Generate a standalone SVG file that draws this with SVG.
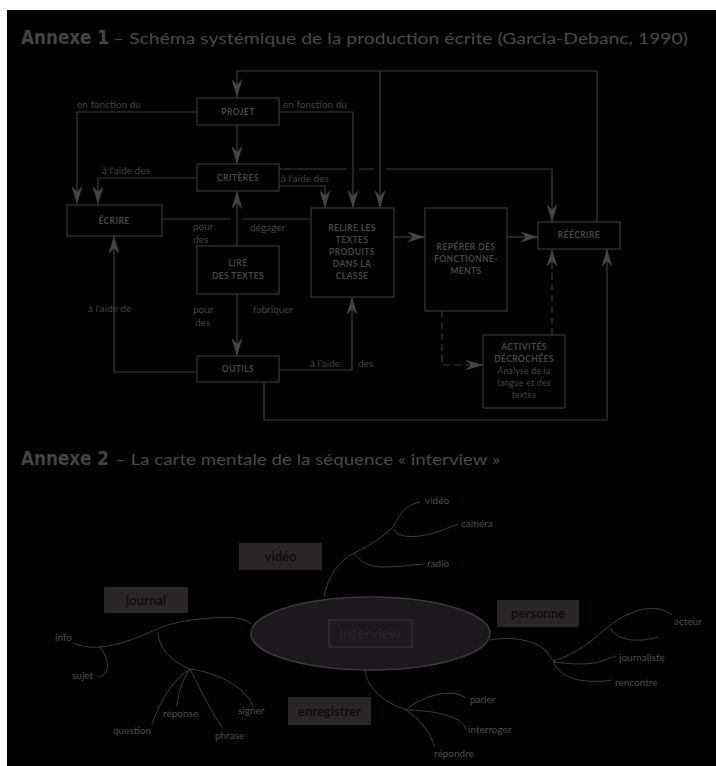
<svg xmlns="http://www.w3.org/2000/svg" width="716" height="766" viewBox="0 0 716 766">
<defs>
<marker id="ah" markerUnits="userSpaceOnUse" markerWidth="18" markerHeight="11" refX="18" refY="5.5" orient="auto">
<path d="M0,0 L18,5.5 L0,11 L6,5.5 Z" fill="#444"/>
</marker>
<style>
.t{font-family:"DejaVu Sans",sans-serif;font-weight:bold;fill:#444}
.st{font-family:Lato,"Open Sans",sans-serif;fill:#4a4a4a}
.box rect{fill:none;stroke:#383838;stroke-width:1.2}
.bl{font-family:Lato,"Open Sans",sans-serif;font-weight:bold;font-size:8.5px;fill:#484848;text-anchor:middle;letter-spacing:0.4px}
.br{font-family:Lato,"Open Sans",sans-serif;font-size:8.5px;fill:#484848;text-anchor:middle;letter-spacing:0.3px}
.lb{font-family:Lato,"Open Sans",sans-serif;font-size:10px;fill:#444}
.c path{fill:none;stroke:#3c3c3c;stroke-width:1.2}
.c .d{stroke-dasharray:7 4}
.m path{fill:none;stroke:#454545;stroke-width:0.9}
.ml{font-family:Lato,"Open Sans",sans-serif;font-size:10px;fill:#4e4e4e}
.tag rect{fill:#2a2628}
.tag text{font-family:Lato,"Open Sans",sans-serif;font-size:13px;font-weight:bold;fill:#0f0d0f;text-anchor:middle}
</style>
</defs>
<rect x="0" y="0" width="716" height="766" fill="#fff"/>
<rect x="7" y="10" width="709" height="756" fill="#000"/>

<text class="t" x="21" y="44" font-size="19" textLength="88" lengthAdjust="spacingAndGlyphs">Annexe 1</text>
<text class="st" x="113" y="44" font-size="16" textLength="575" lengthAdjust="spacingAndGlyphs">– Schéma systémique de la production écrite (Garcia-Debanc, 1990)</text>

<g id="connectors" class="c">
<path d="M597,222 V71 H237 V97" marker-end="url(#ah)"/>
<path d="M380,71 V208" marker-end="url(#ah)"/>
<path d="M196,112 H77 V204" marker-end="url(#ah)"/>
<path d="M279,112 H353 V208" marker-end="url(#ah)"/>
<path d="M237,125 V164" marker-end="url(#ah)"/>
<path d="M197,178 H98 V204" marker-end="url(#ah)"/>
<path d="M279,169 H347 M359,169 H374 M386,169 H552 V222" marker-end="url(#ah)"/>
<path d="M279,186 H325 V208" marker-end="url(#ah)"/>
<path d="M162,219 H231 M243,219 H311"/>
<path d="M237,246 V191" marker-end="url(#ah)"/>
<path d="M237,294 V356" marker-end="url(#ah)"/>
<path d="M196,372 H114 V236" marker-end="url(#ah)"/>
<path d="M279,370 H352 V297" marker-end="url(#ah)"/>
<path d="M264,382 V420 H607 V249" marker-end="url(#ah)"/>
<path d="M394,237 H425" marker-end="url(#ah)"/>
<path d="M507,237 H538" marker-end="url(#ah)"/>
<path class="d" d="M442,311 V365 H483" marker-end="url(#ah)"/>
<path class="d" d="M552,335 V249" marker-end="url(#ah)"/>
</g>

<g id="labels1">
<text class="lb" x="77" y="108">en fonction du</text>
<text class="lb" x="283" y="108">en fonction du</text>
<text class="lb" x="102" y="174">à l'aide des</text>
<text class="lb" x="281" y="182">à l'aide des</text>
<text class="lb" x="193" y="230">pour</text>
<text class="lb" x="193" y="243">des</text>
<text class="lb" x="250" y="231">dégager</text>
<text class="lb" x="88" y="312">à l'aide de</text>
<text class="lb" x="193" y="313">pour</text>
<text class="lb" x="195" y="326">des</text>
<text class="lb" x="253" y="313">fabriquer</text>
<text class="lb" x="310" y="367">à l'aide</text>
<text class="lb" x="358" y="367">des</text>
</g>

<g id="projet" class="box"><rect x="197" y="98" width="82" height="27"/><text class="bl" x="238" y="115">PROJET</text></g>
<g id="criteres" class="box"><rect x="197" y="164" width="82" height="27"/><text class="bl" x="238" y="181">CRITÈRES</text></g>
<g id="ecrire" class="box"><rect x="67" y="205" width="95" height="31"/><text class="bl" x="114" y="224">ÉCRIRE</text></g>
<g id="lire" class="box"><rect x="197" y="246" width="82" height="48"/><text class="bl" x="238" y="266">LIRE</text><text class="bl" x="238" y="279">DES TEXTES</text></g>
<g id="relire" class="box"><rect x="311" y="208" width="83" height="89"/>
<text class="bl" x="352" y="231">RELIRE LES</text><text class="bl" x="352" y="243">TEXTES</text><text class="bl" x="352" y="255">PRODUITS</text><text class="bl" x="352" y="267">DANS LA</text><text class="bl" x="352" y="279">CLASSE</text></g>
<g id="reperer" class="box"><rect x="425" y="208" width="82" height="103"/>
<text class="bl" x="466" y="250">REPÉRER DES</text><text class="bl" x="466" y="262">FONCTIONNE-</text><text class="bl" x="466" y="274">MENTS</text></g>
<g id="reecrire" class="box"><rect x="538" y="222" width="82" height="27"/><text class="bl" x="579" y="238">RÉÉCRIRE</text></g>
<g id="activites" class="box"><rect x="483" y="335" width="82" height="73"/>
<text class="bl" x="524" y="350">ACTIVITÉS</text><text class="bl" x="524" y="362">DÉCROCHÉES</text><text class="br" x="524" y="374">Analyse de la</text><text class="br" x="524" y="386">langue et des</text><text class="br" x="524" y="398">textes</text></g>
<g id="outils" class="box"><rect x="197" y="356" width="82" height="26"/><text class="bl" x="238" y="372">OUTILS</text></g>

<text class="t" x="21" y="465" font-size="19" textLength="88" lengthAdjust="spacingAndGlyphs">Annexe 2</text>
<text class="st" x="115" y="465" font-size="16" textLength="385" lengthAdjust="spacingAndGlyphs">– La carte mentale de la séquence « interview »</text>

<g id="branches" class="m">
<path d="M324,597 C328,575 340,560 354,553 C372,545 385,535 393,527 C400,515 404,505 420,502"/>
<path d="M393,529 C398,537 411,538 425,535 C440,532 450,527 458,524"/>
<path d="M354,553 C360,562 370,567 383,567 C398,567 410,565 423,564"/>
<path d="M251,624 C240,615 220,617 200,619 C180,621 165,625 155,630 C140,637 120,645 100,647 C90,648 80,646 74,643"/>
<path d="M100,647 C106,655 110,665 106,672 C104,676 100,677 97,676"/>
<path d="M158,632 C158,645 168,660 190,669"/>
<path d="M190,669 C175,678 165,695 160,705 C156,714 153,720 152,724"/>
<path d="M190,669 C182,680 178,695 177,706"/>
<path d="M190,669 C198,685 208,705 216,718 C219,722 221,725 222,727"/>
<path d="M190,669 C215,672 240,685 250,700 C252,704 253,706 253,707"/>
<path d="M490,640 C510,636 535,640 545,650 C550,656 552,660 555,662"/>
<path d="M553,661 C565,658 580,650 595,638 C610,625 625,612 645,609 C657,607 665,610 672,615"/>
<path d="M610,628 C614,636 625,641 640,640 C648,640 654,638 658,637"/>
<path d="M553,662 C570,664 592,666 605,660 C610,658 613,657 616,656"/>
<path d="M553,662 C558,672 568,680 588,681 C598,682 606,681 612,680"/>
<path d="M365,670 C367,685 378,700 406,710"/>
<path d="M406,710 C414,703 425,697 440,694 C452,692 460,694 466,698"/>
<path d="M406,710 C425,710 445,713 458,720 C464,724 466,728 466,730"/>
<path d="M406,710 C418,718 428,730 432,740 C434,744 434,746 434,747"/>
</g>

<g id="words">
<text class="ml" x="425" y="504">vidéo</text>
<text class="ml" x="461" y="527">caméra</text>
<text class="ml" x="427" y="567">radio</text>
<text class="ml" x="55" y="641">info</text>
<text class="ml" x="72" y="679">sujet</text>
<text class="ml" x="113" y="734">question</text>
<text class="ml" x="163" y="717">réponse</text>
<text class="ml" x="215" y="739">phrase</text>
<text class="ml" x="238" y="714">signer</text>
<text class="ml" x="674" y="625">acteur</text>
<text class="ml" x="619" y="661">journaliste</text>
<text class="ml" x="615" y="686">rencontre</text>
<text class="ml" x="470" y="703">parler</text>
<text class="ml" x="468" y="733">interroger</text>
<text class="ml" x="434" y="757">répondre</text>
</g>

<g id="interview">
<ellipse cx="370.5" cy="633.5" rx="119.5" ry="36.5" fill="#1c181d" stroke="#3a383a" stroke-width="1.5"/>
<rect x="329" y="620" width="83" height="27" fill="none" stroke="#363336" stroke-width="1.2"/>
<text x="370.5" y="639" font-family="Lato,'Open Sans',sans-serif" font-size="15" fill="#272327" text-anchor="middle">interview</text>
</g>
<g id="video" class="tag"><rect x="239" y="543" width="83" height="27"/><text x="280.5" y="561">vidéo</text></g>
<g id="journal" class="tag"><rect x="104" y="587" width="84" height="26"/><text x="146" y="605">journal</text></g>
<g id="personne" class="tag"><rect x="497" y="600" width="82" height="27"/><text x="538" y="618">personne</text></g>
<g id="enregistrer" class="tag"><rect x="288" y="697" width="83" height="28"/><text x="329.5" y="716">enregistrer</text></g>
</svg>
